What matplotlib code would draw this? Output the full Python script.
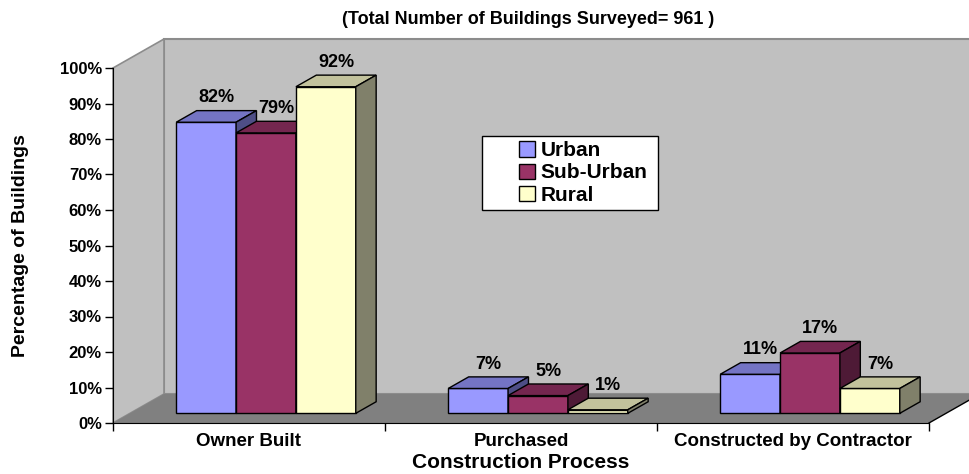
import matplotlib.pyplot as plt
from matplotlib.patches import Polygon, Patch, Rectangle

plt.rcParams['font.family'] = ['Liberation Sans', 'DejaVu Sans']
plt.rcParams['font.weight'] = 'bold'

# data
categories = ["Owner Built", "Purchased", "Constructed by Contractor"]
series = ["Urban", "Sub-Urban", "Rural"]
urban = [82, 7, 11]
sub_urban = [79, 5, 17]
rural = [92, 1, 7]
values = [urban, sub_urban, rural]
yticks = list(range(0, 101, 10))

front_colors = ["#9999FF", "#993366", "#FFFFCC"]
top_colors = ["#7474C4", "#74264F", "#C2C29C"]
side_colors = ["#4E4E86", "#4E1A36", "#80806A"]

fig = plt.figure(figsize=(9.69, 4.74), dpi=100)
ax = fig.add_axes([113/969, 1 - 423/474, (929 - 113)/969, (423 - 68)/474])
ax.set_xlim(0, 3)
ax.set_ylim(0, 100)

# depth of the 3d box (data units)
DX, DY = 51/272, 29/3.55
# bar position inside the depth and bar depth
SX, SY = DX/3, DY/3
BDX, BDY = DX*0.4, DY*0.4
w = 0.22

# walls and floor
back = Polygon([(DX, DY), (3 + DX, DY), (3 + DX, 100 + DY), (DX, 100 + DY)],
               fc="#C0C0C0", ec="#8C8C8C", lw=1.5, clip_on=False, zorder=0)
left = Polygon([(0, 0), (DX, DY), (DX, 100 + DY), (0, 100)],
               fc="#C0C0C0", ec="#8C8C8C", lw=1.2, clip_on=False, zorder=0.5)
floor = Polygon([(0, 0), (3, 0), (3 + DX, DY), (DX, DY)],
                fc="#808080", ec="none", clip_on=False, zorder=0.6)
for p in (back, left, floor):
    ax.add_patch(p)
ax.plot([3, 3 + DX], [0, DY], color="black", lw=1, clip_on=False, zorder=0.7)

# bars
for i in range(len(categories)):
    for j in range(len(series)):
        v = values[j][i]
        x = i + 0.5 + (j - 1)*w + SX
        z = 2 + i*3 + j
        ax.bar(x, v, width=w, bottom=SY, color=front_colors[j],
               edgecolor="black", lw=1, zorder=z)
        x0, x1 = x - w/2, x + w/2
        top = SY + v
        ax.add_patch(Polygon([(x0, top), (x1, top), (x1 + BDX, top + BDY), (x0 + BDX, top + BDY)],
                             fc=top_colors[j], ec="black", lw=1, zorder=z))
        ax.add_patch(Polygon([(x1, SY), (x1 + BDX, SY + BDY), (x1 + BDX, top + BDY), (x1, top)],
                             fc=side_colors[j], ec="black", lw=1, zorder=z))
        ax.text(x + BDX/2, top + BDY + 1.2, f"{v}%", ha="center", va="bottom",
                fontsize=13, fontweight="bold", zorder=20)

# axes
for s in ("top", "right"):
    ax.spines[s].set_visible(False)
ax.spines["left"].set_zorder(1)
ax.spines["bottom"].set_zorder(1)
ax.set_yticks(yticks)
ax.set_yticklabels([f"{t}%" for t in yticks], fontsize=12)
ax.tick_params(axis="y", length=6, width=1, pad=2)
ax.set_xticks([0, 1, 2, 3])
ax.set_xticklabels([])
ax.set_xticks([0.5, 1.5, 2.5], minor=True)
ax.set_xticklabels(categories, minor=True, fontsize=13.5)
ax.tick_params(axis="x", which="major", length=6, width=1)
ax.tick_params(axis="x", which="minor", length=0, pad=7)
ax.patch.set_visible(False)

fig.text(521/969, 1 - 462/474, "Construction Process", ha="center", va="center",
         fontsize=15, fontweight="bold")
ax.set_ylabel("Percentage of Buildings", fontsize=14, fontweight="bold", labelpad=22)

fig.text(528/969, 1 - 19/474, "(Total Number of Buildings Surveyed= 961 )",
         ha="center", va="center", fontsize=13, fontweight="bold")

# legend with a wide frame like the original
fig.add_artist(Rectangle((482/969, 1 - 210/474), 176/969, 74/474, transform=fig.transFigure,
                         fc="white", ec="black", lw=1, zorder=25))
handles = [Patch(fc=front_colors[j], ec="black", lw=1) for j in range(3)]
leg = fig.legend(handles, series, loc="center left", bbox_to_anchor=(519/969, 1 - 173/474),
                 fontsize=15, frameon=False, borderpad=0, labelspacing=0.15,
                 handlelength=0.75, handleheight=0.75, handletextpad=0.3, borderaxespad=0)
leg.set_zorder(30)
for t in leg.get_texts():
    t.set_fontweight("bold")

fig.savefig("out.png", dpi=100)
